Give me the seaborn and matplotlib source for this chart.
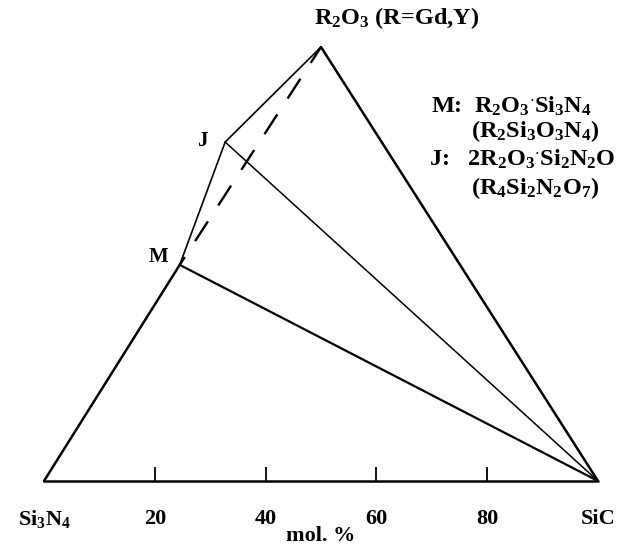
import seaborn as sns
import matplotlib.pyplot as plt
import pandas as pd

# 数据：顶点位置（x 为 SiC mol.%，y 为 R2O3 方向高度，顶点 = 100）
vertex_names = ['Si3N4', 'SiC', 'R2O3', 'M', 'J']
vertex_x = [0, 100, 50, 24.5, 32.7]
vertex_y = [0, 0, 100, 49.8, 78.1]

# 连线（起点, 终点）
solid_edges = [('Si3N4', 'SiC'), ('Si3N4', 'M'), ('M', 'J'), ('J', 'R2O3'),
               ('R2O3', 'SiC'), ('M', 'SiC'), ('J', 'SiC')]
dashed_edges = [('R2O3', 'M')]

tick_values = [20, 40, 60, 80]

# 样式
sns.set_style('white')
plt.rcParams['font.family'] = ['Liberation Serif', 'DejaVu Serif']
plt.rcParams['font.weight'] = 'bold'
plt.rcParams['text.color'] = 'black'
plt.rcParams['mathtext.fontset'] = 'custom'
plt.rcParams['mathtext.rm'] = 'Liberation Serif:bold'
plt.rcParams['mathtext.bf'] = 'Liberation Serif:bold'
plt.rcParams['mathtext.it'] = 'Liberation Serif:bold:italic'

line_width = {('Si3N4', 'SiC'): 1.8, ('Si3N4', 'M'): 1.8, ('M', 'J'): 1.2,
              ('J', 'R2O3'): 1.2, ('R2O3', 'SiC'): 1.8, ('M', 'SiC'): 1.6,
              ('J', 'SiC'): 1.1}

pts = pd.DataFrame({'x': vertex_x, 'y': vertex_y}, index=vertex_names)

fig = plt.figure(figsize=(6.38, 5.47), dpi=100)
ax = fig.add_axes([44 / 638, 66 / 547, 554 / 638, 434 / 547])

for a, b in solid_edges:
    seg = pts.loc[[a, b]]
    sns.lineplot(x=seg['x'].values, y=seg['y'].values, sort=False, ax=ax,
                 color='black', linewidth=line_width[(a, b)])
for a, b in dashed_edges:
    seg = pts.loc[[a, b]]
    sns.lineplot(x=seg['x'].values, y=seg['y'].values, sort=False, ax=ax,
                 color='black', linewidth=1.7, linestyle=(2, (10, 8)))
for ln in ax.lines:
    ln.set_clip_on(False)

ax.set_xlim(0, 100)
ax.set_ylim(0, 100)
for s in ax.spines.values():
    s.set_visible(False)
ax.set_yticks([])
ax.set_xticks(tick_values)
ax.set_xticklabels([str(t) for t in tick_values])
ax.tick_params(axis='x', bottom=True, direction='in', length=10, width=1.3,
               pad=20, labelsize=16, colors='black')
for lbl in ax.get_xticklabels():
    lbl.set_fontweight('bold')

# 顶点标签
ax.text(0, -8.8, r'Si$_3$N$_4$', ha='center', va='center', fontsize=16,
        fontweight='bold', clip_on=False)
ax.text(100, -8.8, 'SiC', ha='center', va='center', fontsize=16,
        fontweight='bold', clip_on=False)
ax.text(50, -12.6, 'mol. %', ha='center', va='center', fontsize=16,
        fontweight='bold', clip_on=False)
ax.text(48.8, 106.7, r'R$_2$O$_3$ (R=Gd,Y)', ha='left', va='center',
        fontsize=17.5, fontweight='bold', clip_on=False)
ax.text(29.5, 78.3, 'J', ha='right', va='center', fontsize=15, fontweight='bold')
ax.text(22.5, 51.5, 'M', ha='right', va='center', fontsize=15, fontweight='bold')

# 图例文字
ax.text(69.9, 86.4, r'M:  R$_2$O$_3$$^{\cdot}$Si$_3$N$_4$', ha='left', va='center',
        fontsize=17.5, fontweight='bold')
ax.text(77.1, 80.6, r'(R$_2$Si$_3$O$_3$N$_4$)', ha='left', va='center',
        fontsize=17.5, fontweight='bold')
ax.text(69.5, 74.0, r'J:   2R$_2$O$_3$$^{\cdot}$Si$_2$N$_2$O', ha='left', va='center',
        fontsize=17.5, fontweight='bold')
ax.text(77.1, 67.5, r'(R$_4$Si$_2$N$_2$O$_7$)', ha='left', va='center',
        fontsize=17.5, fontweight='bold')

plt.savefig('out.png', dpi=100)
